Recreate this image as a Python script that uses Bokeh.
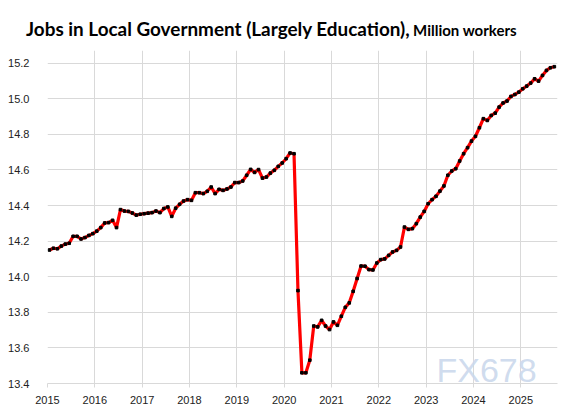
from bokeh.plotting import figure
from bokeh.models import ColumnDataSource, Label, FixedTicker, Div
from bokeh.layouts import column
from bokeh.embed import file_html
from bokeh.resources import INLINE

# Monthly jobs in local government, million workers, Jan 2015 - Sep 2025
jobs = [
    14.150, 14.160, 14.157, 14.172, 14.183, 14.188, 14.227, 14.227, 14.212, 14.220, 14.232, 14.242,  # 2015
    14.256, 14.276, 14.302, 14.304, 14.317, 14.276, 14.377, 14.369, 14.367, 14.358, 14.346, 14.351,  # 2016
    14.354, 14.357, 14.360, 14.369, 14.360, 14.383, 14.392, 14.339, 14.385, 14.407, 14.425, 14.433,  # 2017
    14.429, 14.472, 14.472, 14.467, 14.480, 14.504, 14.467, 14.491, 14.485, 14.493, 14.504, 14.529,  # 2018
    14.529, 14.538, 14.570, 14.603, 14.586, 14.602, 14.554, 14.560, 14.582, 14.598, 14.620, 14.639,  # 2019
    14.663, 14.695, 14.691, 13.922, 13.460, 13.460, 13.531, 13.723, 13.718, 13.755, 13.723, 13.703,  # 2020
    13.746, 13.727, 13.778, 13.828, 13.853, 13.918, 13.990, 14.060, 14.059, 14.040, 14.038, 14.077,  # 2021
    14.096, 14.100, 14.120, 14.139, 14.148, 14.167, 14.279, 14.266, 14.270, 14.298, 14.335, 14.367,  # 2022
    14.410, 14.433, 14.452, 14.481, 14.510, 14.570, 14.594, 14.607, 14.650, 14.691, 14.725, 14.762,  # 2023
    14.789, 14.837, 14.888, 14.878, 14.906, 14.919, 14.953, 14.976, 14.987, 15.013, 15.024, 15.037,  # 2024
    15.056, 15.071, 15.088, 15.112, 15.099, 15.131, 15.159, 15.174, 15.180,                          # 2025
]
years = [2015, 2016, 2017, 2018, 2019, 2020, 2021, 2022, 2023, 2024, 2025]
y_ticks = [13.4, 13.6, 13.8, 14.0, 14.2, 14.4, 14.6, 14.8, 15.0, 15.2]
title_main = "Jobs in Local Government (Largely Education),"
title_unit = "Million workers"

month_pos = [i + 0.5 for i in range(len(jobs))]
src = ColumnDataSource(dict(x=month_pos, y=jobs))

title_div = Div(
    text=(f'<span style="font-family:Lato;font-weight:bold;font-size:18.9px;color:#000">{title_main}</span>'
          f' <span style="font-family:Lato;font-weight:bold;font-size:15px;color:#000">{title_unit}</span>'),
    width=561, height=32,
    styles={"padding-left": "21px", "padding-top": "15px", "line-height": "17px",
            "white-space": "nowrap", "box-sizing": "border-box"})

p = figure(frame_width=510, frame_height=333,
           min_border_left=47, min_border_right=4, min_border_top=8, min_border_bottom=25,
           x_range=(0, 129.3), y_range=(13.4, 15.271),
           output_backend="svg", toolbar_location=None,
           background_fill_color="white", border_fill_color="white")
p.outline_line_color = None

p.line("x", "y", source=src, line_color="#ff0000", line_width=3.2)
p.scatter("x", "y", source=src, marker="square", size=2.6, fill_color="black", line_color="black")

tick_pos = [(y - years[0]) * 12 for y in years]
p.xaxis.ticker = FixedTicker(ticks=tick_pos)
p.xaxis.major_label_overrides = {t: str(y) for t, y in zip(tick_pos, years)}
p.xaxis.minor_tick_line_color = None
p.xaxis.major_tick_out = 4
p.xaxis.major_tick_in = 0
p.xaxis.major_tick_line_color = "#d9d9d9"
p.xaxis.axis_line_color = "#d9d9d9"
p.xaxis.major_label_text_font = "Liberation Sans"
p.xaxis.major_label_text_font_size = "11px"
p.xaxis.major_label_text_color = "#222222"
p.xaxis.major_label_standoff = 8

p.yaxis.ticker = FixedTicker(ticks=y_ticks)
p.yaxis.major_label_overrides = {t: f"{t:.1f}" for t in y_ticks}
p.yaxis.axis_line_color = None
p.yaxis.major_tick_line_color = None
p.yaxis.minor_tick_line_color = None
p.yaxis.major_label_text_font = "Liberation Sans"
p.yaxis.major_label_text_font_size = "11px"
p.yaxis.major_label_text_color = "#222222"
p.yaxis.major_label_standoff = 12

p.xgrid.ticker = FixedTicker(ticks=tick_pos)
p.xgrid.grid_line_color = "#d9d9d9"
p.ygrid.grid_line_color = "#d9d9d9"

p.add_layout(Label(x=389, y=14, x_units="screen", y_units="screen", text="FX678",
                   text_font="Liberation Sans", text_font_size="34px",
                   text_color="#cad8ec", text_alpha=0.9, text_baseline="alphabetic"))

layout = column(title_div, p, spacing=0)
open("out.html", "w").write(file_html(layout, INLINE))
